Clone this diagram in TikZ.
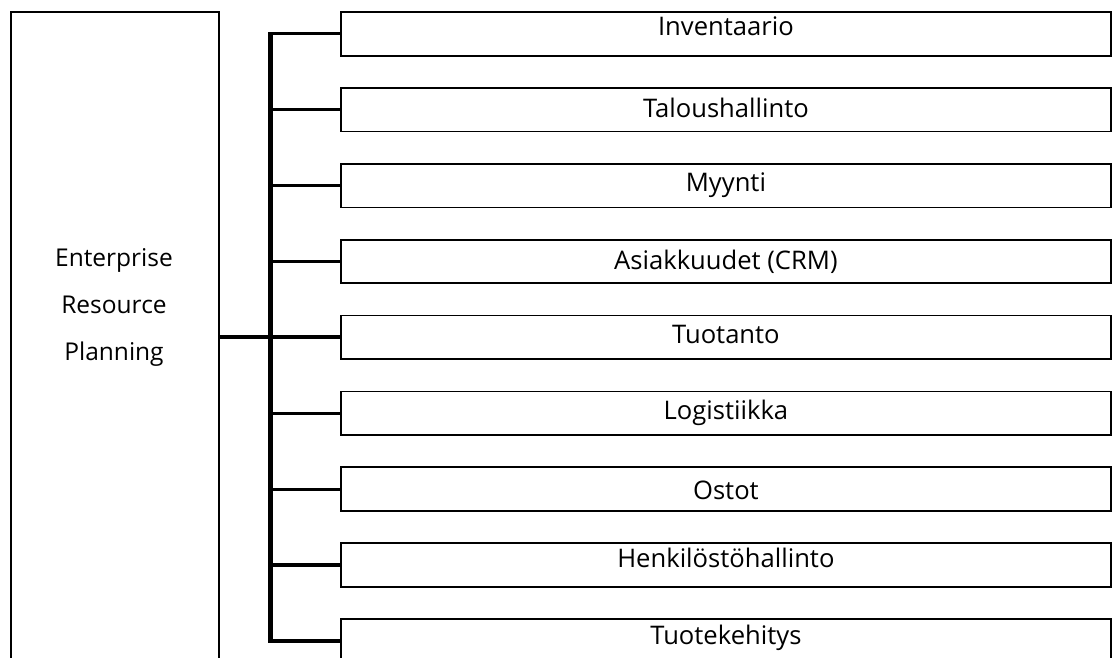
\documentclass[tikz,border=0pt]{standalone}
\usepackage{fontspec}
\setmainfont{Open Sans}
\begin{document}
\begin{tikzpicture}[x=1pt,y=-1pt,
  frame/.style={draw=black, line width=1.8pt, inner sep=0pt},
  module/.style={frame, anchor=north west, minimum width=770pt, minimum height=43.7pt,
    text depth=0pt, text height=#1, font=\fontsize{25.6}{30}\selectfont},
  busline/.style={line width=5pt},
  stub/.style={line width=3.2pt},
  trunk/.style={line width=3.8pt}]
\useasboundingbox (0,0) rectangle (1112,657);
\clip (0,0) rectangle (1112,657);

% the ERP system box, running off the bottom of the page
\node[frame, anchor=north west, minimum width=208pt, minimum height=720pt] (erp) at (10,11) {};
\node[align=center, font=\fontsize{24.5}{46.6}\selectfont] (erplabel) at (114,307.5)
  {Enterprise\\Resource\\Planning};

% the modules
\foreach \i/\txt/\off in {0/Inventaario/4.4pt, 1/Taloushallinto/16pt, 2/Myynti/12.6pt,
    3/Asiakkuudet (CRM)/15.6pt, 4/Tuotanto/11.8pt, 5/Logistiikka/13.2pt, 6/Ostot/20pt,
    7/Henkilöstöhallinto/5pt, 8/Tuotekehitys/6.6pt}
  \node[module=\off] (m\i) at (340,11+75.9*\i) {\txt};

% bus linking the modules
\coordinate (bus) at (270,0);
\draw[busline, shorten <=-1.6pt, shorten >=-1.6pt] (bus |- m0.west) -- (bus |- m8.west);
\foreach \i in {0,1,2,3,5,6,7,8}
  \draw[stub] (bus |- m\i.west) -- (m\i.west);

% trunk from the ERP box to the bus
\draw[trunk] (erp.east |- m4.west) -- (m4.west);
\end{tikzpicture}
\end{document}
